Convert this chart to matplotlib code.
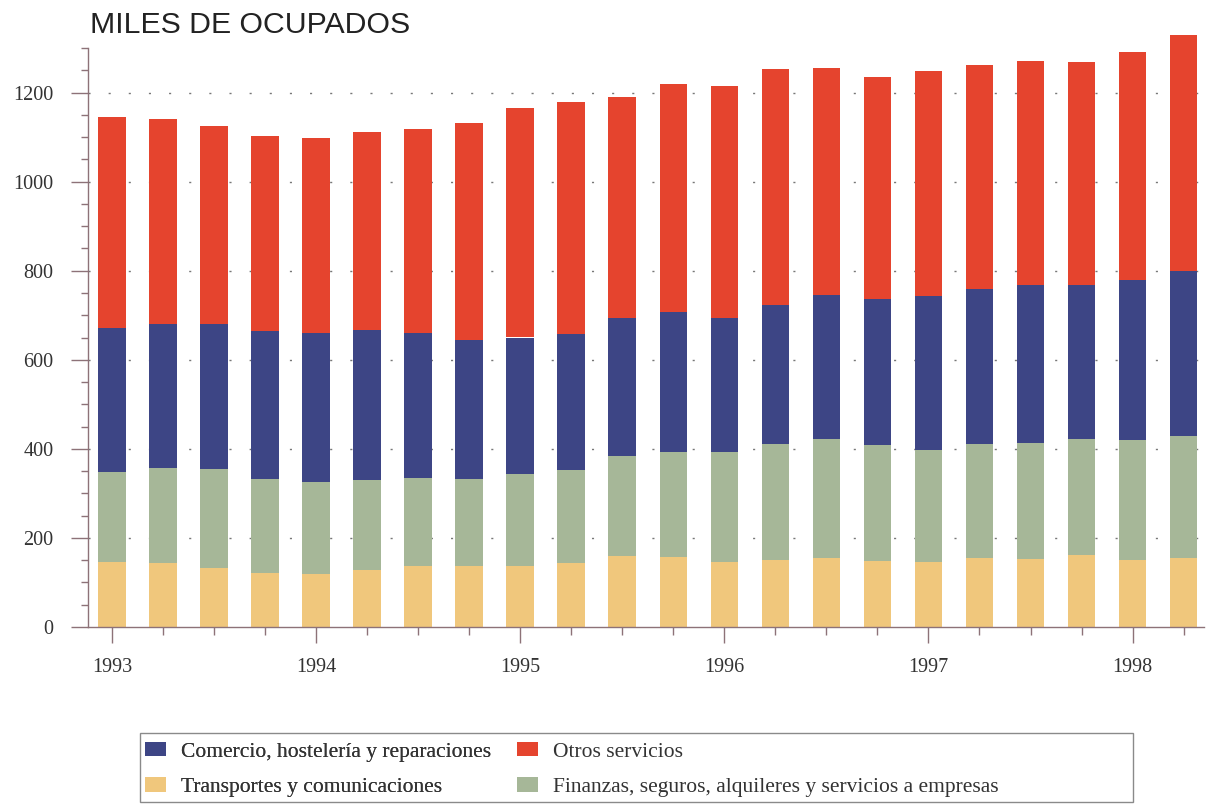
import matplotlib
matplotlib.use("Agg")
import matplotlib.pyplot as plt
from matplotlib.patches import Patch, Rectangle

# ---- data (miles de ocupados, trimestral 1993T1 - 1998T2) ----
quarters = ["1993T1", "1993T2", "1993T3", "1993T4",
            "1994T1", "1994T2", "1994T3", "1994T4",
            "1995T1", "1995T2", "1995T3", "1995T4",
            "1996T1", "1996T2", "1996T3", "1996T4",
            "1997T1", "1997T2", "1997T3", "1997T4",
            "1998T1", "1998T2"]
year_labels = ["1993", "1994", "1995", "1996", "1997", "1998"]

transportes = [145, 143, 133, 121, 120, 129, 136, 137, 138, 144, 159,
               157, 147, 151, 154, 149, 147, 154, 152, 162, 151, 154]
finanzas = [202, 213, 221, 211, 205, 202, 199, 196, 206, 209, 224,
            237, 247, 259, 269, 259, 251, 257, 261, 260, 268, 275]
comercio = [325, 325, 326, 332, 335, 336, 324, 311, 306, 304, 310,
            314, 299, 312, 323, 328, 345, 349, 354, 345, 360, 371]
otros = [474, 460, 445, 439, 438, 444, 460, 488, 515, 521, 497,
         512, 522, 530, 509, 500, 505, 502, 503, 501, 511, 530]

labels = {
    "comercio": "Comercio, hostelería y reparaciones",
    "otros": "Otros servicios",
    "transportes": "Transportes y comunicaciones",
    "finanzas": "Finanzas, seguros, alquileres y servicios a empresas",
}

c_red = "#E5442E"
c_blue = "#3D4585"
c_green = "#A6B798"
c_yellow = "#F0C77C"
spine_c = "#8d7278"

W, H = 1207, 805
fig = plt.figure(figsize=(W / 100, H / 100), dpi=100)
ax = fig.add_axes([88 / W, 1 - 627 / H, (1204 - 88) / W, (627 - 48) / H])

x = list(range(len(quarters)))
bw = 0.54
b1 = transportes
b2 = [a + b for a, b in zip(b1, finanzas)]
b3 = [a + b for a, b in zip(b2, comercio)]
ax.bar(x, transportes, width=bw, color=c_yellow, zorder=2, clip_on=False)
ax.bar(x, finanzas, width=bw, bottom=b1, color=c_green, zorder=2, clip_on=False)
ax.bar(x, comercio, width=bw, bottom=b2, color=c_blue, zorder=2, clip_on=False)
ax.bar(x, otros, width=bw, bottom=b3, color=c_red, zorder=2, clip_on=False)

ax.set_ylim(0, 1300)
ax.set_xlim(-0.47, 21.4)

# grid
for yv in range(200, 1201, 200):
    ax.axhline(yv, color="#777777", lw=1.0, linestyle=(0, (1.5, 13)), zorder=1)

# spines
for s in ["top", "right"]:
    ax.spines[s].set_visible(False)
ax.spines["left"].set_color(spine_c)
ax.spines["bottom"].set_color(spine_c)
ax.spines["left"].set_linewidth(1.0)
ax.spines["bottom"].set_linewidth(1.0)

# y ticks
ax.set_yticks(range(0, 1201, 200))
ax.set_yticks(range(0, 1301, 50), minor=True)
ax.tick_params(axis="y", which="major", direction="out", length=12, width=1,
               color=spine_c, pad=13, labelsize=14.5, labelcolor="#333333")
ax.tick_params(axis="y", which="minor", direction="out", length=5, width=1,
               color=spine_c)

# x ticks
ax.set_xticks(x, minor=True)
ax.set_xticks([0, 4, 8, 12, 16, 20])
ax.set_xticklabels(year_labels)
ax.tick_params(axis="x", which="major", direction="out", length=11.5, width=1,
               color=spine_c, pad=11, labelsize=14.5, labelcolor="#333333")
ax.tick_params(axis="x", which="minor", direction="out", length=6, width=1,
               color=spine_c)
for lab in ax.get_xticklabels() + ax.get_yticklabels():
    lab.set_fontfamily("Liberation Serif")

# title
fig.text(90 / W, 1 - 33 / H, "MILES DE OCUPADOS", family="Liberation Sans",
         fontsize=21.8, color="#222222", va="baseline", ha="left")

# legend frame
fig.add_artist(Rectangle((140 / W, 1 - 802 / H), (1133 - 140) / W, (802 - 733) / H,
                         transform=fig.transFigure, fill=False,
                         edgecolor="#8a8a8a", lw=1.0))

lprops = dict(family="Liberation Serif", size=15.5)
common = dict(loc="upper left", frameon=False, handlelength=0.97,
              handleheight=0.65, handletextpad=0.7, labelspacing=0.73,
              borderpad=0, borderaxespad=0, prop=lprops, labelcolor="#333333")
h_com = Patch(facecolor=c_blue, edgecolor="none")
h_tra = Patch(facecolor=c_yellow, edgecolor="none")
h_otr = Patch(facecolor=c_red, edgecolor="none")
h_fin = Patch(facecolor=c_green, edgecolor="none")
leg1 = fig.legend([h_com, h_tra], [labels["comercio"], labels["transportes"]],
                  bbox_to_anchor=(145 / W, 1 - 742 / H), **common)
fig.add_artist(leg1)
leg2 = fig.legend([h_otr, h_fin], [labels["otros"], labels["finanzas"]],
                  bbox_to_anchor=(517 / W, 1 - 742 / H), **common)

fig.savefig("out.png", dpi=100)
